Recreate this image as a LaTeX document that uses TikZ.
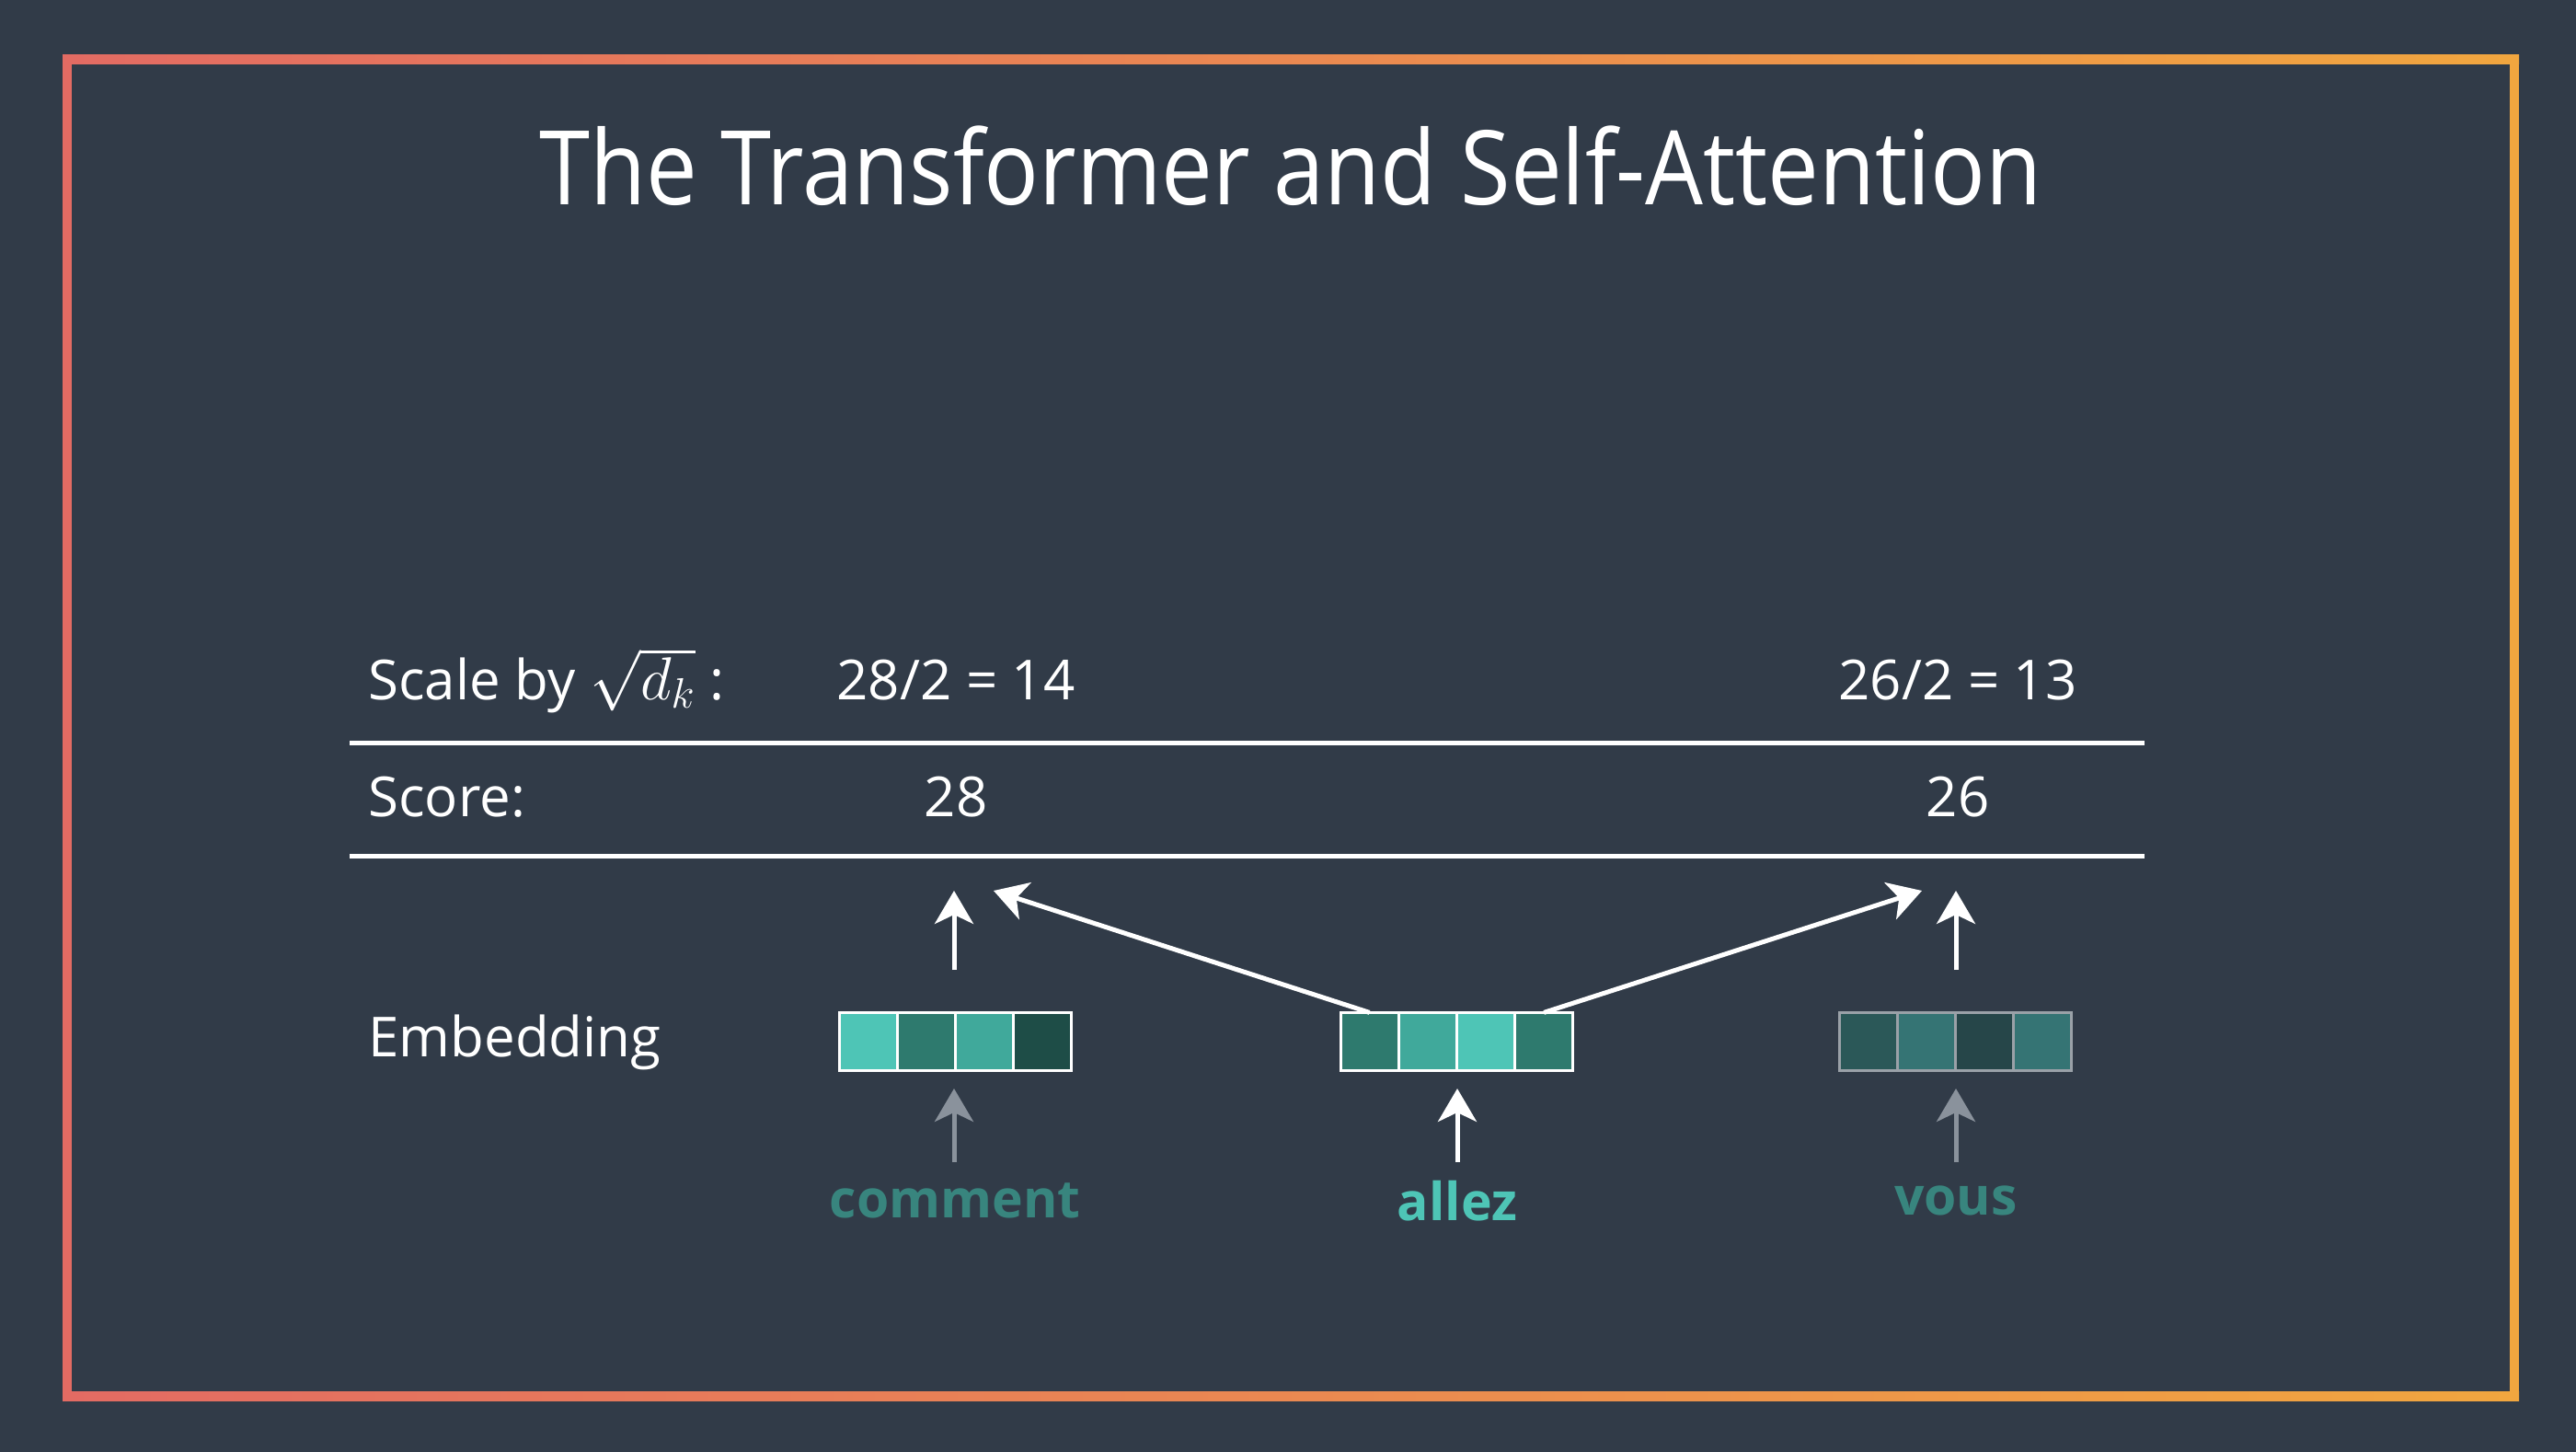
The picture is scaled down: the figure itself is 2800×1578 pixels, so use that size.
\RequirePackage{fix-cm}
\documentclass[tikz,border=0pt]{standalone}
\usepackage{fontspec}
\setmainfont{Open Sans}
\usetikzlibrary{arrows.meta}
\definecolor{bg}{HTML}{313B48}
\definecolor{bordl}{HTML}{E36B63}
\definecolor{bordr}{HTML}{F1A63F}
\definecolor{tA}{HTML}{4EC5B6}
\definecolor{tB}{HTML}{2E7A6E}
\definecolor{tC}{HTML}{40A99B}
\definecolor{tD}{HTML}{1E4D47}
\definecolor{vA}{HTML}{2B5858}
\definecolor{vB}{HTML}{357474}
\definecolor{vC}{HTML}{264649}
\definecolor{greyline}{HTML}{9AA1A8}
\definecolor{greyarrow}{HTML}{8A929C}
\definecolor{dimteal}{HTML}{38857E}
\tikzset{
  lbl/.style={font=\fontsize{30}{36}\selectfont, text=white, inner sep=0pt},
  word/.style={font=\fontsize{28.5}{34}\selectfont\bfseries, inner sep=0pt, anchor=base},
  rule/.style={draw=white, line width=2.5pt},
  cell/.style={draw=white, line width=1.5pt, minimum width=31.6pt, minimum height=31.6pt, inner sep=0pt, outer sep=0pt, anchor=west},
  vcell/.style={cell, draw=greyline},
  arr/.style={draw=white, line width=2.5pt, -{Stealth[length=18pt, width=21pt, inset=5pt]}},
  garr/.style={arr, draw=greyarrow, -{Stealth[length=18pt, width=21pt, inset=5pt, fill=greyarrow]}}
}
\begin{document}
\begin{tikzpicture}[x=0.5pt,y=-0.5pt]
\useasboundingbox (0,0) rectangle (2800,1578);
\fill[bg] (0,0) rectangle (2800,1578);
% gradient frame
\shade[left color=bordl, right color=bordr] (68,60) rectangle (2738,70);
\shade[left color=bordl, right color=bordr] (68,1512) rectangle (2738,1522);
\fill[bordl] (68,60) rectangle (78,1522);
\fill[bordr] (2728,60) rectangle (2738,1522);

% title
\node[font=\fontsize{56}{64}\selectfont, text=white, anchor=base, inner sep=0pt, xscale=0.887, transform shape] (title) at (1403,223) {The Transformer and Self-Attention};

% row labels
\node[lbl, anchor=base west] (scalelbl) at (400,760) {Scale by {\fontsize{33}{36}\selectfont$\sqrt{d_k}$} :};
\node[lbl, anchor=base west] (scorelbl) at (400,887) {Score:};
\node[lbl, anchor=base west] (emblbl) at (400,1148) {Embedding};

% values
\node[lbl, anchor=base] (v14) at (1039,760) {28/2 = 14};
\node[lbl, anchor=base] (v13) at (2128,760) {26/2 = 13};
\node[lbl, anchor=base] (s28) at (1039,887) {28};
\node[lbl, anchor=base] (s26) at (2128,887) {26};

% rules
\coordinate (r1a) at (380,807);
\coordinate (r1b) at (2331,807);
\coordinate (r2a) at (380,930);
\coordinate (r2b) at (2331,930);
\draw[rule] (r1a) -- (r1b);
\draw[rule] (r2a) -- (r2b);

% embeddings: comment
\node[cell, fill=tA] (cm1) at (912,1132) {};
\node[cell, fill=tB] (cm2) at (cm1.east) {};
\node[cell, fill=tC] (cm3) at (cm2.east) {};
\node[cell, fill=tD] (cm4) at (cm3.east) {};
% allez
\node[cell, fill=tB] (al1) at (1457,1132) {};
\node[cell, fill=tC] (al2) at (al1.east) {};
\node[cell, fill=tA] (al3) at (al2.east) {};
\node[cell, fill=tB] (al4) at (al3.east) {};
% vous
\node[vcell, fill=vA] (vo1) at (1999,1132) {};
\node[vcell, fill=vB] (vo2) at (vo1.east) {};
\node[vcell, fill=vC] (vo3) at (vo2.east) {};
\node[vcell, fill=vB] (vo4) at (vo3.east) {};

% words
\node[word, text=dimteal] (wcm) at (1038,1323) {comment};
\node[word, text=tA] (wal) at (1584,1326) {allez};
\node[word, text=dimteal] (wvo) at (2126,1320) {vous};

% arrow end points
\coordinate (cmup0) at (1037,1054);
\coordinate (cmup1) at (1037,968);
\coordinate (voup0) at (2126,1054);
\coordinate (voup1) at (2126,968);
\coordinate (diagL) at (1080,968);
\coordinate (diagR) at (2089,968);
\coordinate (cmb0) at (1037,1263);
\coordinate (cmb1) at (1037,1183);
\coordinate (alb0) at (1584,1263);
\coordinate (alb1) at (1584,1183);
\coordinate (vob0) at (2126,1263);
\coordinate (vob1) at (2126,1183);

% arrows up to score row
\draw[arr] (cmup0) -- (cmup1);
\draw[arr] (voup0) -- (voup1);
\draw[arr] (al1.north) -- (diagL);
\draw[arr] (al4.north) -- (diagR);

% word arrows
\draw[garr] (cmb0) -- (cmb1);
\draw[arr] (alb0) -- (alb1);
\draw[garr] (vob0) -- (vob1);
\end{tikzpicture}
\end{document}
